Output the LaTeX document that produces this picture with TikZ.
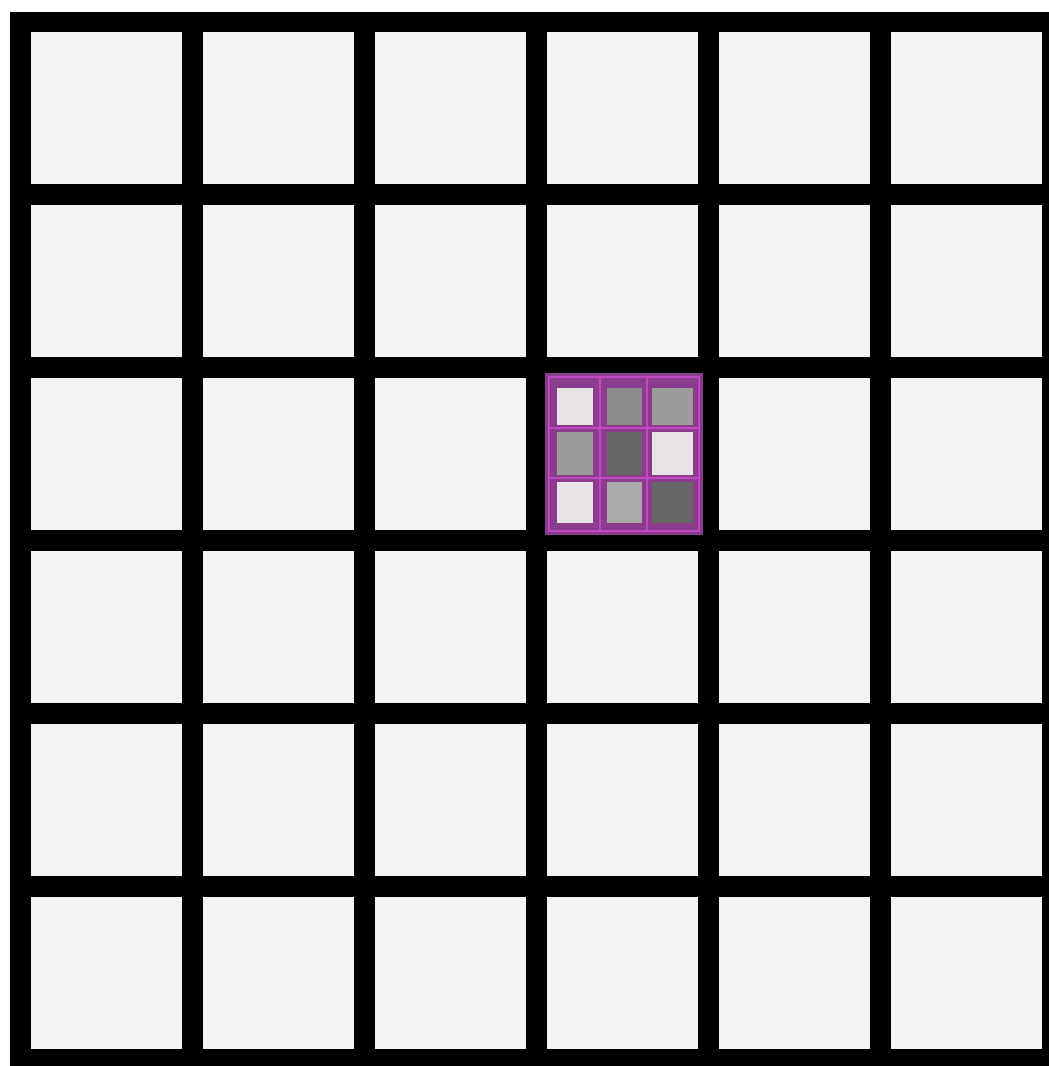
\documentclass[tikz,border=0pt]{standalone}
\begin{document}
\begin{tikzpicture}[x=0.02cm,y=-0.02cm,
  cellbox/.style={fill=cellgray},
  subbox/.style={draw=none}]
\definecolor{cellgray}{HTML}{F3F3F3}
\definecolor{purp}{HTML}{8C3C8C}
\definecolor{magline}{HTML}{C048C0}
\definecolor{lightsq}{HTML}{E6E2E6}
\definecolor{midsq}{HTML}{8C8C8C}
\definecolor{midsqb}{HTML}{9C9C9C}
\definecolor{darksq}{HTML}{666666}
\useasboundingbox (0,0) rectangle (1049,1066);
\fill[white] (0,0) rectangle (1049,1066);
\fill[black] (10,12) rectangle (1049,1066);
\foreach \i in {0,...,5}{
  \foreach \j in {0,...,5}{
    \fill[cellbox] ({31+172*\i},{32+173*\j}) rectangle ++(151,152);
  }
}
% highlighted cell
\fill[purp] (545,373) rectangle (703,535);
\draw[magline,line width=1.2pt] (549,377) rectangle (699,531);
\draw[magline,line width=1pt] (600,377) -- (600,531) (647,377) -- (647,531)
  (549,428) -- (699,428) (549,478) -- (699,478);
\fill[lightsq] (557,388) rectangle (593,425);
\fill[midsq] (607,388) rectangle (642,425);
\fill[midsqb] (652,388) rectangle (693,425);
\fill[midsqb] (557,432) rectangle (593,475);
\fill[darksq] (607,432) rectangle (642,475);
\fill[lightsq] (652,432) rectangle (693,475);
\fill[lightsq] (557,482) rectangle (593,523);
\fill[midsqb!85!white] (607,482) rectangle (642,523);
\fill[darksq] (652,482) rectangle (693,523);
\end{tikzpicture}
\end{document}
